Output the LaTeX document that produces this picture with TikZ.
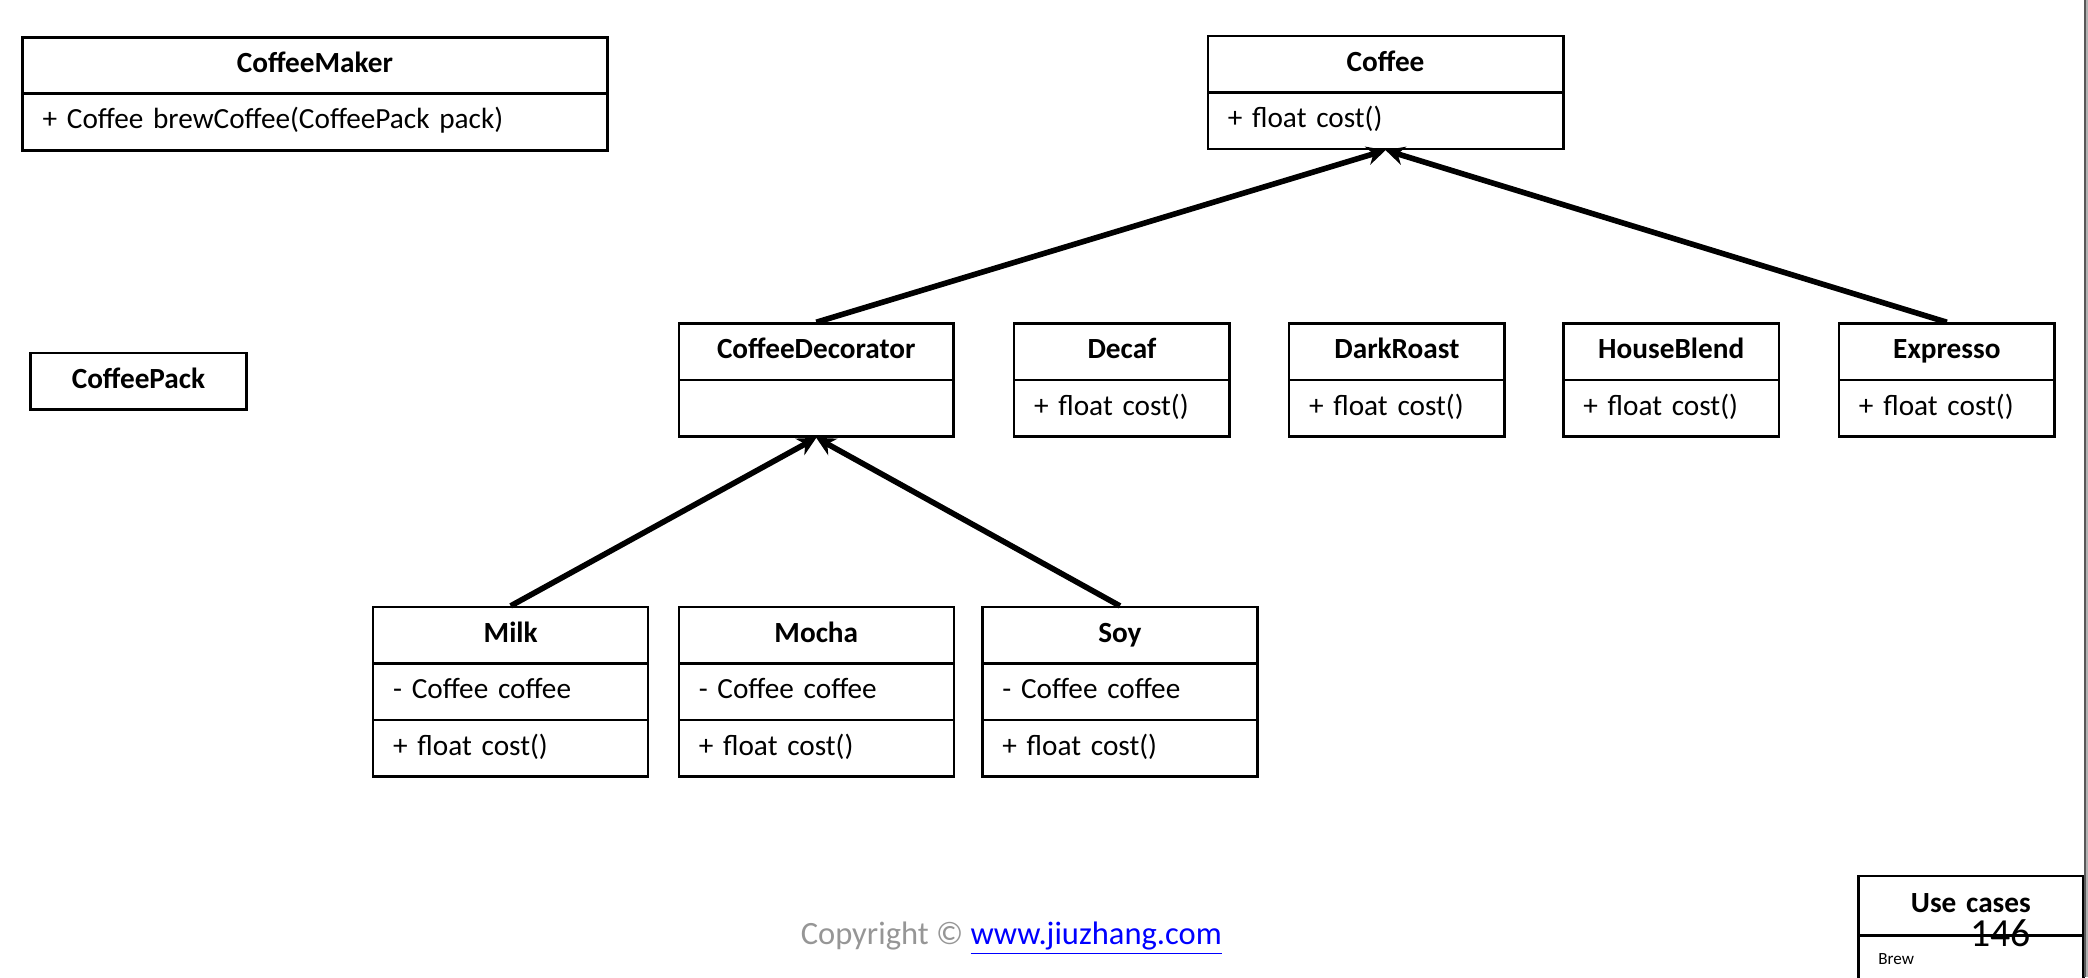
\documentclass[tikz,border=0pt]{standalone}
\usepackage{fontspec}
\setmainfont{Carlito}
\usetikzlibrary{shapes.multipart,arrows.meta}

\definecolor{cpgray}{RGB}{150,150,150}
\definecolor{linkblue}{RGB}{0,0,255}
\newcommand{\cpt}{\rule[-0.30cm]{0pt}{0.81cm}}
\newcommand{\ctitle}[1]{\hbox to \hsize{\hfil\cpt\textbf{#1}\hfil}}

\tikzset{
    cls/.style={draw, line width=1.1pt, rectangle split, rectangle split parts=#1,
        inner xsep=0.3cm, inner ysep=0pt, align=left, anchor=north,
        font=\fontsize{12.5}{15}\selectfont},
    cls/.default=2,
    inh/.style={line width=2.4pt, -{Stealth[length=8pt,width=8pt]}},
}

\begin{document}
\begin{tikzpicture}
            \useasboundingbox (0, 0) rectangle (31.36, 14.68);

            \node[cls, text width=8.18cm] at(4.73, 14.14)(maker){\ctitle{CoffeeMaker}
                \nodepart{two}\cpt + Coffee brewCoffee(CoffeePack pack)};
            \node[cls=1, text width=2.64cm] at(2.08, 9.40)(pack){\ctitle{CoffeePack}};

            \node[cls, text width=4.74cm] at(20.81, 14.16)(coffee){\ctitle{Coffee}
                \nodepart{two}\cpt + float cost()};

            \node[cls, text width=3.52cm] at(12.26, 9.84)(deco){\ctitle{CoffeeDecorator}
                \nodepart{two}\cpt};
            \node[cls, text width=2.64cm] at(16.85, 9.84)(decaf){\ctitle{Decaf}
                \nodepart{two}\cpt + float cost()};
            \node[cls, text width=2.64cm] at(20.98, 9.84)(dark){\ctitle{DarkRoast}
                \nodepart{two}\cpt + float cost()};
            \node[cls, text width=2.64cm] at(25.10, 9.84)(house){\ctitle{HouseBlend}
                \nodepart{two}\cpt + float cost()};
            \node[cls, text width=2.64cm] at(29.24, 9.84)(expresso){\ctitle{Expresso}
                \nodepart{two}\cpt + float cost()};

            \node[cls=3, text width=3.53cm] at(7.67, 5.58)(milk){\ctitle{Milk}
                \nodepart{two}\cpt - Coffee coffee
                \nodepart{three}\cpt + float cost()};
            \node[cls=3, text width=3.53cm] at(12.26, 5.58)(mocha){\ctitle{Mocha}
                \nodepart{two}\cpt - Coffee coffee
                \nodepart{three}\cpt + float cost()};
            \node[cls=3, text width=3.53cm] at(16.82, 5.58)(soy){\ctitle{Soy}
                \nodepart{two}\cpt - Coffee coffee
                \nodepart{three}\cpt + float cost()};

            \draw[inh](deco.north) -- (coffee.south);
            \draw[inh](expresso.north) -- (coffee.south);
            \draw[inh](milk.north) -- (deco.south);
            \draw[inh](soy.north) -- (deco.south);

            % footer
            \node[anchor=base west, inner sep=0, font=\fontsize{13.9}{16}\selectfont] at(12.02, 0.49)(copy){\textcolor{cpgray}{Copyright ©} \textcolor{linkblue}{\underline{www.jiuzhang.com}}};

            \node[cls, text width=2.78cm] at(29.60, 1.54)(usecase){\hbox to \hsize{\hfil\rule[-0.32cm]{0pt}{0.85cm}\textbf{Use cases}\hfil}
                \nodepart{two}\rule[-0.22cm]{0pt}{0.64cm}{\fontsize{7.3}{9}\selectfont Brew}};
            \node[anchor=base, inner sep=0, font=\fontsize{17}{20}\selectfont] at(30.05, 0.46)(page){146};

            \fill[black!30](31.33, 0) rectangle (31.36, 14.68);
            \draw[line width=0.8pt, black!65](31.31, 0) -- (31.31, 14.68);
\end{tikzpicture}
\end{document}
